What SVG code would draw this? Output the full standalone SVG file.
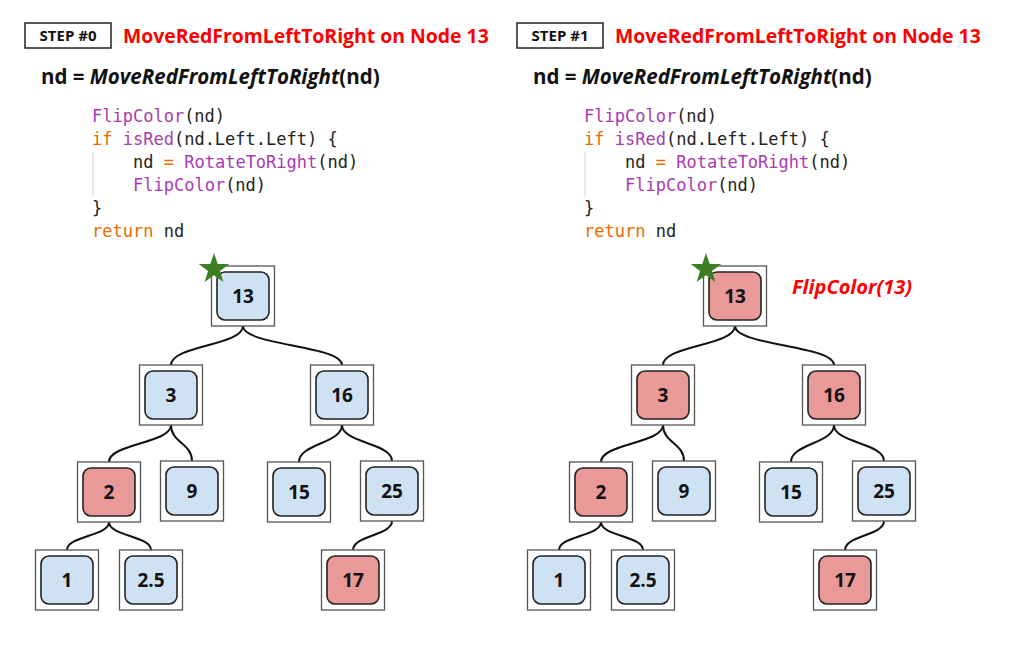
<svg xmlns="http://www.w3.org/2000/svg" width="1014" height="656" viewBox="0 0 1014 656">
<style>
.bg{fill:#fff}
.stepbox{fill:#fff;stroke:#222;stroke-width:1.5}
.step{font-family:"Open Sans","Liberation Sans",sans-serif;font-weight:bold;font-size:15px;fill:#111;text-anchor:middle}
.title{font-family:"Open Sans","Liberation Sans",sans-serif;font-weight:bold;font-size:19.4px;fill:#ff0000}
.call{font-family:"Open Sans","Liberation Sans",sans-serif;font-weight:bold;font-size:20.5px;fill:#111}
.code{font-family:"DejaVu Sans Mono","Liberation Mono",monospace;font-size:17px;fill:#222}
.kw{fill:#ec6a00}
.fn{fill:#a83bb4}
.guide{stroke:#e2e2e2;stroke-width:1.5}
.outer{fill:#fff;stroke:#555;stroke-width:1.3}
.blue{fill:#cfe2f3;stroke:#222;stroke-width:1.6}
.red{fill:#ea9999;stroke:#222;stroke-width:1.6}
.lbl{font-family:"Open Sans","Liberation Sans",sans-serif;font-weight:bold;font-size:19px;fill:#111;text-anchor:middle}
.edge{fill:none;stroke:#111;stroke-width:2}
.star{fill:#3f7d25}
.note{font-family:"Open Sans","Liberation Sans",sans-serif;font-weight:bold;font-style:italic;font-size:20px;fill:#ff0000}
</style>
<defs>
<path id="starShape" class="star" d="M0,-16 L3.69,-5.09 L15.22,-4.94 L5.98,1.94 L9.40,12.94 L0,6.29 L-9.40,12.94 L-5.98,1.94 L-15.22,-4.94 L-3.69,-5.09 Z"/>
</defs>
<rect class="bg" x="0" y="0" width="1014" height="656"/>

<!-- LEFT PANEL -->
<g id="header0">
<rect class="stepbox" x="25" y="23" width="86" height="25"/>
<text class="step" x="68" y="41">STEP #0</text>
<text class="title" x="123" y="43">MoveRedFromLeftToRight on Node 13</text>
<text class="call" x="41" y="84">nd = <tspan font-style="italic">MoveRedFromLeftToRight</tspan>(nd)</text>
</g>
<g id="code0">
<line class="guide" x1="93" y1="152" x2="93" y2="196"/>
<text class="code" x="92" y="122"><tspan class="fn">FlipColor</tspan>(nd)</text>
<text class="code" x="92" y="145"><tspan class="kw">if</tspan> <tspan class="fn">isRed</tspan>(nd.Left.Left) {</text>
<text class="code" x="133" y="168">nd <tspan class="kw">=</tspan> <tspan class="fn">RotateToRight</tspan>(nd)</text>
<text class="code" x="133" y="191"><tspan class="fn">FlipColor</tspan>(nd)</text>
<text class="code" x="92" y="214">}</text>
<text class="code" x="92" y="237"><tspan class="kw">return</tspan> nd</text>
</g>
<g id="edges0">
<path class="edge" d="M243,326 C243,345.5 171,345.5 171,365"/>
<path class="edge" d="M243,326 C243,345.5 342,345.5 342,365"/>
<path class="edge" d="M171,425 C171,443.5 109,443.5 109,462"/>
<path class="edge" d="M171,425 C171,443 192,443 192,461"/>
<path class="edge" d="M342,425 C342,443.5 299,443.5 299,462"/>
<path class="edge" d="M342,425 C342,443 392,443 392,461"/>
<path class="edge" d="M109,522 C109,536 67,536 67,550"/>
<path class="edge" d="M109,522 C109,536 151,536 151,550"/>
<path class="edge" d="M392,521 C392,535.5 353,535.5 353,550"/>
</g>
<g id="n0_13"><rect class="outer" x="211.5" y="266" width="63" height="60"/><rect class="blue" x="217" y="272" width="52" height="48" rx="8"/><text class="lbl" x="243" y="303">13</text><use href="#starShape" x="214" y="269"/></g>
<g id="n0_3"><rect class="outer" x="139.5" y="365" width="63" height="60"/><rect class="blue" x="145" y="371" width="52" height="48" rx="8"/><text class="lbl" x="171" y="402">3</text></g>
<g id="n0_16"><rect class="outer" x="310.5" y="365" width="63" height="60"/><rect class="blue" x="316" y="371" width="52" height="48" rx="8"/><text class="lbl" x="342" y="402">16</text></g>
<g id="n0_2"><rect class="outer" x="77.5" y="462" width="63" height="60"/><rect class="red" x="83" y="468" width="52" height="48" rx="8"/><text class="lbl" x="109" y="499">2</text></g>
<g id="n0_9"><rect class="outer" x="160.5" y="461" width="63" height="60"/><rect class="blue" x="166" y="467" width="52" height="48" rx="8"/><text class="lbl" x="192" y="498">9</text></g>
<g id="n0_15"><rect class="outer" x="267.5" y="462" width="63" height="60"/><rect class="blue" x="273" y="468" width="52" height="48" rx="8"/><text class="lbl" x="299" y="499">15</text></g>
<g id="n0_25"><rect class="outer" x="360.5" y="461" width="63" height="60"/><rect class="blue" x="366" y="467" width="52" height="48" rx="8"/><text class="lbl" x="392" y="498">25</text></g>
<g id="n0_1"><rect class="outer" x="35.5" y="550" width="63" height="60"/><rect class="blue" x="41" y="556" width="52" height="48" rx="8"/><text class="lbl" x="67" y="587">1</text></g>
<g id="n0_2_5"><rect class="outer" x="119.5" y="550" width="63" height="60"/><rect class="blue" x="125" y="556" width="52" height="48" rx="8"/><text class="lbl" x="151" y="587">2.5</text></g>
<g id="n0_17"><rect class="outer" x="321.5" y="550" width="63" height="60"/><rect class="red" x="327" y="556" width="52" height="48" rx="8"/><text class="lbl" x="353" y="587">17</text></g>

<!-- RIGHT PANEL -->
<g id="header1">
<rect class="stepbox" x="517" y="23" width="86" height="25"/>
<text class="step" x="560" y="41">STEP #1</text>
<text class="title" x="615" y="43">MoveRedFromLeftToRight on Node 13</text>
<text class="call" x="533" y="84">nd = <tspan font-style="italic">MoveRedFromLeftToRight</tspan>(nd)</text>
</g>
<g id="code1">
<line class="guide" x1="585" y1="152" x2="585" y2="196"/>
<text class="code" x="584" y="122"><tspan class="fn">FlipColor</tspan>(nd)</text>
<text class="code" x="584" y="145"><tspan class="kw">if</tspan> <tspan class="fn">isRed</tspan>(nd.Left.Left) {</text>
<text class="code" x="625" y="168">nd <tspan class="kw">=</tspan> <tspan class="fn">RotateToRight</tspan>(nd)</text>
<text class="code" x="625" y="191"><tspan class="fn">FlipColor</tspan>(nd)</text>
<text class="code" x="584" y="214">}</text>
<text class="code" x="584" y="237"><tspan class="kw">return</tspan> nd</text>
</g>
<text id="note1" class="note" x="792" y="294">FlipColor(13)</text>
<g id="edges1">
<path class="edge" d="M735,326 C735,345.5 663,345.5 663,365"/>
<path class="edge" d="M735,326 C735,345.5 834,345.5 834,365"/>
<path class="edge" d="M663,425 C663,443.5 601,443.5 601,462"/>
<path class="edge" d="M663,425 C663,443 684,443 684,461"/>
<path class="edge" d="M834,425 C834,443.5 791,443.5 791,462"/>
<path class="edge" d="M834,425 C834,443 884,443 884,461"/>
<path class="edge" d="M601,522 C601,536 559,536 559,550"/>
<path class="edge" d="M601,522 C601,536 643,536 643,550"/>
<path class="edge" d="M884,521 C884,535.5 845,535.5 845,550"/>
</g>
<g id="n1_13"><rect class="outer" x="703.5" y="266" width="63" height="60"/><rect class="red" x="709" y="272" width="52" height="48" rx="8"/><text class="lbl" x="735" y="303">13</text><use href="#starShape" x="706" y="269"/></g>
<g id="n1_3"><rect class="outer" x="631.5" y="365" width="63" height="60"/><rect class="red" x="637" y="371" width="52" height="48" rx="8"/><text class="lbl" x="663" y="402">3</text></g>
<g id="n1_16"><rect class="outer" x="802.5" y="365" width="63" height="60"/><rect class="red" x="808" y="371" width="52" height="48" rx="8"/><text class="lbl" x="834" y="402">16</text></g>
<g id="n1_2"><rect class="outer" x="569.5" y="462" width="63" height="60"/><rect class="red" x="575" y="468" width="52" height="48" rx="8"/><text class="lbl" x="601" y="499">2</text></g>
<g id="n1_9"><rect class="outer" x="652.5" y="461" width="63" height="60"/><rect class="blue" x="658" y="467" width="52" height="48" rx="8"/><text class="lbl" x="684" y="498">9</text></g>
<g id="n1_15"><rect class="outer" x="759.5" y="462" width="63" height="60"/><rect class="blue" x="765" y="468" width="52" height="48" rx="8"/><text class="lbl" x="791" y="499">15</text></g>
<g id="n1_25"><rect class="outer" x="852.5" y="461" width="63" height="60"/><rect class="blue" x="858" y="467" width="52" height="48" rx="8"/><text class="lbl" x="884" y="498">25</text></g>
<g id="n1_1"><rect class="outer" x="527.5" y="550" width="63" height="60"/><rect class="blue" x="533" y="556" width="52" height="48" rx="8"/><text class="lbl" x="559" y="587">1</text></g>
<g id="n1_2_5"><rect class="outer" x="611.5" y="550" width="63" height="60"/><rect class="blue" x="617" y="556" width="52" height="48" rx="8"/><text class="lbl" x="643" y="587">2.5</text></g>
<g id="n1_17"><rect class="outer" x="813.5" y="550" width="63" height="60"/><rect class="red" x="819" y="556" width="52" height="48" rx="8"/><text class="lbl" x="845" y="587">17</text></g>
</svg>
